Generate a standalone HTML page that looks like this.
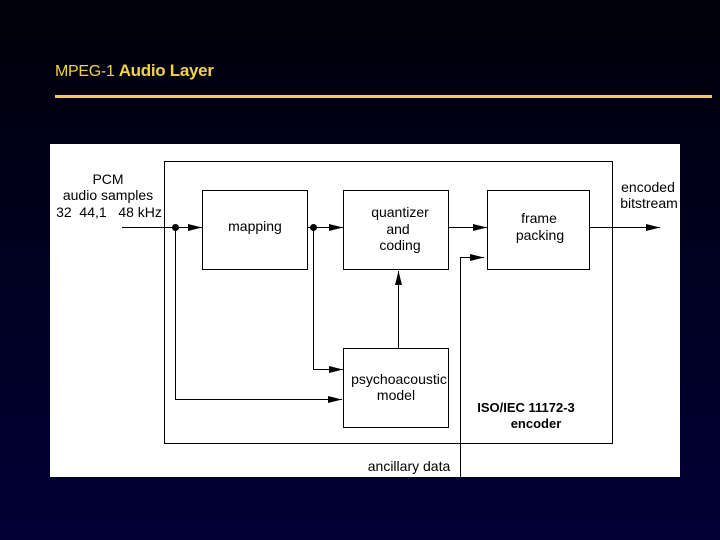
<!DOCTYPE html>
<html><head><style>
body{margin:0;width:720px;height:540px;overflow:hidden;background:linear-gradient(#00000a 0%,#00001c 40%,#000035 100%);font-family:"Liberation Sans",sans-serif;position:relative}
.t{position:absolute;left:55px;top:61px;color:#f2d24a;font-size:16px;white-space:nowrap;letter-spacing:-0.3px}
.t b{font-size:17px}
.ln{position:absolute;left:55px;top:95px;width:657px;height:3px;background:#f0cf45}
</style></head><body>
<div class="t">MPEG-1 <b>Audio Layer</b></div>
<div class="ln"></div>
<svg width="720" height="540" style="position:absolute;left:0;top:0" font-family="Liberation Sans, sans-serif">
<defs><marker id="a" markerWidth="14" markerHeight="10" refX="14" refY="5" orient="auto" markerUnits="userSpaceOnUse"><path d="M0,1.5 L14,5 L0,8.5z" fill="#000"/></marker></defs>
<rect x="50" y="144" width="630" height="333" fill="#fff"/>
<g fill="none" stroke="#000" stroke-width="1">
<rect x="164.5" y="161.5" width="448" height="282"/>
<rect x="202.5" y="190.5" width="105" height="79"/>
<rect x="343.5" y="190.5" width="105" height="79"/>
<rect x="487.5" y="190.5" width="102" height="79"/>
<rect x="343.5" y="348.5" width="105" height="79"/>
<line x1="122" y1="227.5" x2="202" y2="227.5"/>
<line x1="189" y1="227.5" x2="202" y2="227.5" marker-end="url(#a)"/>
<line x1="307" y1="227.5" x2="343" y2="227.5"/>
<line x1="330" y1="227.5" x2="343" y2="227.5" marker-end="url(#a)"/>
<line x1="448" y1="227.5" x2="487" y2="227.5"/>
<line x1="472" y1="227.5" x2="487" y2="227.5" marker-end="url(#a)"/>
<line x1="589" y1="227.5" x2="660" y2="227.5" marker-end="url(#a)"/>
<polyline points="460.5,477 460.5,257.5 484,257.5" marker-end="url(#a)"/>
<line x1="398.5" y1="348" x2="398.5" y2="271" marker-end="url(#a)"/>
<polyline points="313.5,227 313.5,369.5 343,369.5" marker-end="url(#a)"/>
<polyline points="175.5,227 175.5,399.5 342,399.5" marker-end="url(#a)"/>
</g>
<circle cx="175.5" cy="227.5" r="3.5"/>
<circle cx="313.5" cy="227.5" r="3.5"/>
<g font-size="14" fill="#000" text-anchor="middle">
<text x="108" y="184">PCM</text>
<text x="108" y="200">audio samples</text>
<text x="109" y="217" xml:space="preserve" style="white-space:pre">32  44,1   48 kHz</text>
<text x="255" y="231">mapping</text>
<text x="400" y="217">quantizer</text>
<text x="398" y="234">and</text>
<text x="400" y="250">coding</text>
<text x="539" y="223">frame</text>
<text x="540" y="240">packing</text>
<text x="648" y="192">encoded</text>
<text x="649" y="208">bitstream</text>
<text x="399" y="384">psychoacoustic</text>
<text x="396" y="400">model</text>
<text x="409" y="471">ancillary data</text>
<text x="526" y="412" font-size="13" font-weight="bold">ISO/IEC 11172-3</text>
<text x="536" y="428" font-size="13" font-weight="bold">encoder</text>
</g>
</svg>
</body></html>
